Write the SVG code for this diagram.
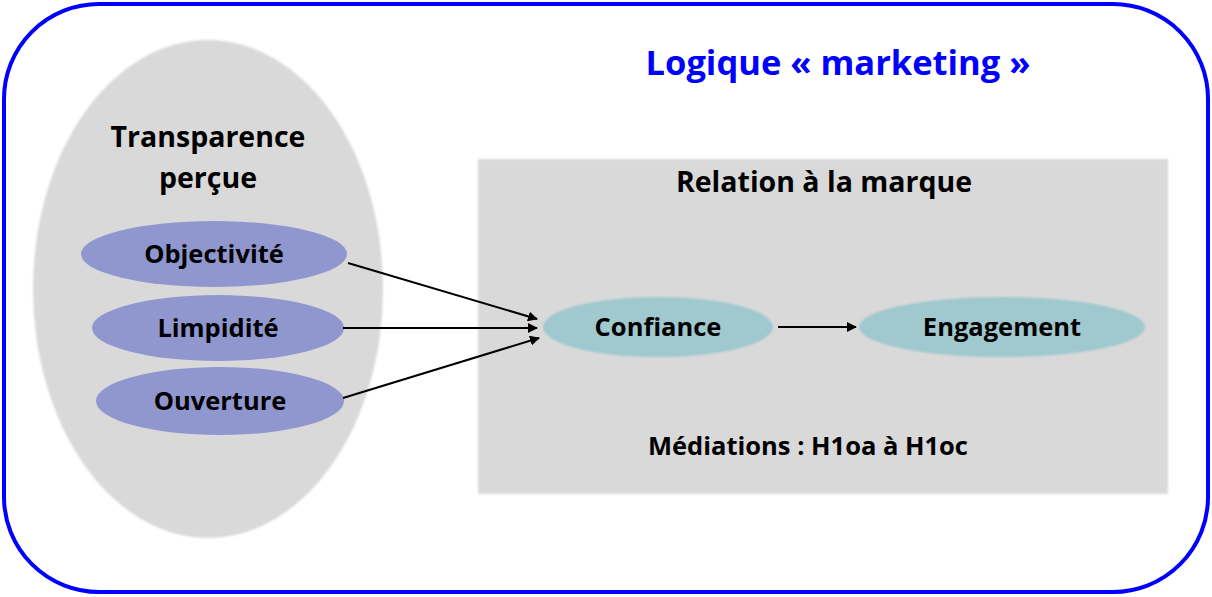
<svg xmlns="http://www.w3.org/2000/svg" width="1212" height="597" viewBox="0 0 1212 597">
<defs>
<style>
text{font-family:"Open Sans","Noto Sans",sans-serif;font-weight:bold;fill:#000;text-anchor:middle}
.big{font-size:28.5px}
.node{font-size:25.5px}
.title{font-size:34.5px;fill:#0000ff}
.bg{fill:#d9d9d9}
.dim{fill:#9097cf}
.med{fill:#9fc8cf}
.conn line{stroke:#000;stroke-width:2;marker-end:url(#ah)}
</style>
<marker id="ah" viewBox="0 0 10 10" refX="9" refY="5" markerWidth="5" markerHeight="5" orient="auto" markerUnits="strokeWidth">
<path d="M0,0 L10,5 L0,10 z" fill="#000"/>
</marker>
<filter id="soft" x="-5%" y="-5%" width="110%" height="110%"><feGaussianBlur stdDeviation="1.2"/></filter>
</defs>
<rect x="0" y="0" width="1212" height="597" fill="#fff"/>
<g id="frame">
<rect x="4" y="4" width="1204" height="588" rx="95" ry="95" fill="#fff" stroke="#0000ff" stroke-width="4"/>
<text class="title" x="838" y="75">Logique « marketing »</text>
</g>
<g id="transparence">
<ellipse class="bg" cx="208" cy="289" rx="175" ry="249" filter="url(#soft)"/>
<text class="big" x="208" y="147">Transparence</text>
<text class="big" x="208" y="188">perçue</text>
</g>
<g id="objectivite">
<ellipse class="dim" cx="214" cy="254" rx="133" ry="33"/>
<text class="node" x="214" y="263">Objectivité</text>
</g>
<g id="limpidite">
<ellipse class="dim" cx="218" cy="328" rx="126" ry="33"/>
<text class="node" x="218" y="337">Limpidité</text>
</g>
<g id="ouverture">
<ellipse class="dim" cx="220" cy="401" rx="124" ry="34"/>
<text class="node" x="220" y="410">Ouverture</text>
</g>
<g id="relation">
<rect class="bg" x="478" y="159" width="690" height="335" filter="url(#soft)"/>
<text class="big" x="824" y="192">Relation à la marque</text>
<text class="node" x="808" y="455">Médiations : H1oa à H1oc</text>
</g>
<g id="confiance">
<ellipse class="med" cx="658" cy="327" rx="115" ry="30" filter="url(#soft)"/>
<text class="node" x="658" y="336">Confiance</text>
</g>
<g id="engagement">
<ellipse class="med" cx="1002" cy="327" rx="143" ry="30" filter="url(#soft)"/>
<text class="node" x="1002" y="336">Engagement</text>
</g>
<g id="connectors" class="conn">
<line x1="348" y1="263" x2="537" y2="319"/>
<line x1="343" y1="328" x2="537" y2="328"/>
<line x1="343" y1="398" x2="539" y2="338"/>
<line x1="778" y1="327" x2="856" y2="327"/>
</g>
</svg>
